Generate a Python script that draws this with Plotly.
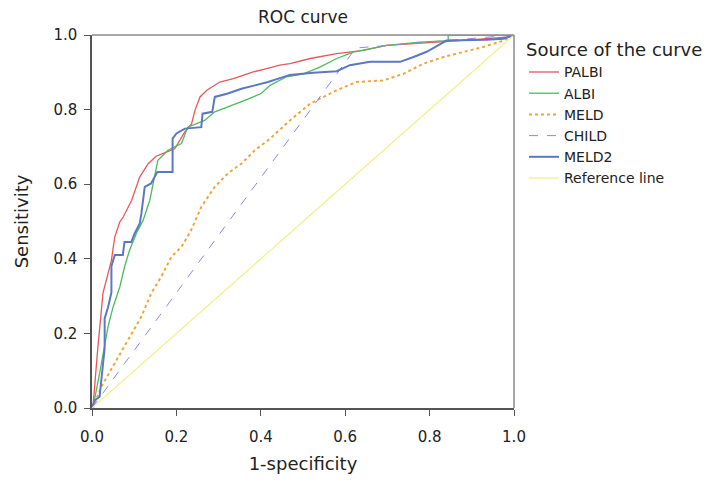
import plotly.graph_objects as go

# ---- data (1-specificity, sensitivity) ----
palbi_fpr = [0.0, 0.002, 0.014, 0.026, 0.046, 0.054, 0.066, 0.074, 0.094, 0.113, 0.133, 0.152, 0.176, 0.196,
             0.220, 0.236, 0.244, 0.256, 0.272, 0.303, 0.335, 0.359, 0.382, 0.414, 0.445, 0.469, 0.517,
             0.580, 0.643, 0.698, 0.754, 0.817, 0.872, 0.990, 1.0]
palbi_tpr = [0.0, 0.0, 0.164, 0.308, 0.396, 0.459, 0.499, 0.512, 0.557, 0.619, 0.655, 0.675, 0.686, 0.695,
             0.740, 0.762, 0.798, 0.834, 0.852, 0.874, 0.883, 0.892, 0.901, 0.910, 0.919, 0.923, 0.937,
             0.950, 0.959, 0.972, 0.976, 0.981, 0.985, 0.995, 1.0]

albi_fpr = [0.0, 0.002, 0.018, 0.030, 0.038, 0.050, 0.066, 0.077, 0.089, 0.105, 0.121, 0.137, 0.149, 0.156,
            0.180, 0.212, 0.227, 0.267, 0.291, 0.322, 0.362, 0.401, 0.422, 0.461, 0.501, 0.540, 0.580,
            0.619, 0.659, 0.698, 0.777, 0.844, 0.844, 1.0]
albi_tpr = [0.0, 0.0, 0.093, 0.164, 0.218, 0.271, 0.325, 0.378, 0.423, 0.468, 0.503, 0.557, 0.619, 0.664,
            0.691, 0.709, 0.753, 0.771, 0.794, 0.807, 0.825, 0.843, 0.865, 0.888, 0.896, 0.914, 0.937,
            0.954, 0.963, 0.972, 0.981, 0.985, 1.0, 1.0]

meld_fpr = [0.0, 0.002, 0.022, 0.054, 0.085, 0.117, 0.140, 0.164, 0.188, 0.212, 0.235, 0.259, 0.291, 0.322,
            0.354, 0.386, 0.422, 0.469, 0.517, 0.580, 0.627, 0.690, 0.738, 0.785, 0.833, 0.880, 0.927,
            0.975, 1.0]
meld_tpr = [0.0, 0.0, 0.057, 0.120, 0.182, 0.245, 0.307, 0.352, 0.405, 0.432, 0.477, 0.539, 0.593, 0.629,
            0.655, 0.691, 0.722, 0.771, 0.816, 0.852, 0.874, 0.878, 0.896, 0.923, 0.941, 0.955, 0.968,
            0.985, 1.0]

child_fpr = [0.0, 0.625, 1.0]
child_tpr = [0.0, 0.965, 1.0]

meld2_fpr = [0.0, 0.006, 0.018, 0.030, 0.030, 0.038, 0.046, 0.046, 0.054, 0.073, 0.077, 0.093, 0.101, 0.113,
             0.117, 0.125, 0.140, 0.152, 0.155, 0.191, 0.191, 0.200, 0.220, 0.259, 0.262, 0.285, 0.291,
             0.322, 0.354, 0.386, 0.417, 0.469, 0.524, 0.580, 0.611, 0.659, 0.730, 0.762, 0.793, 0.817,
             0.840, 0.935, 0.975, 1.0]
meld2_tpr = [0.0, 0.020, 0.030, 0.160, 0.240, 0.270, 0.310, 0.380, 0.410, 0.410, 0.445, 0.445, 0.468, 0.494,
             0.521, 0.593, 0.602, 0.628, 0.633, 0.633, 0.722, 0.736, 0.749, 0.753, 0.789, 0.794, 0.834,
             0.843, 0.856, 0.865, 0.874, 0.893, 0.899, 0.903, 0.919, 0.928, 0.928, 0.941, 0.955, 0.970,
             0.985, 0.987, 0.990, 1.0]

ref_fpr = [0.0, 1.0]
ref_tpr = [0.0, 1.0]

tick_vals = [0.0, 0.2, 0.4, 0.6, 0.8, 1.0]
tick_text = ["0.0", "0.2", "0.4", "0.6", "0.8", "1.0"]

FONT = "'DejaVu Sans', Verdana, sans-serif"

# page has an 8px body margin: figure is 719x481 so it fits the 727x489 window
W, H = 719, 481
L, T = 84, 27          # plot left / top inside the figure
PW, PH = 422, 373      # plot width / height

fig = go.Figure()
fig.add_trace(go.Scatter(x=palbi_fpr, y=palbi_tpr, mode="lines", name="PALBI",
                         line=dict(color="#e9565c", width=1.3)))
fig.add_trace(go.Scatter(x=albi_fpr, y=albi_tpr, mode="lines", name="ALBI",
                         line=dict(color="#4dbb5c", width=1.3)))
fig.add_trace(go.Scatter(x=meld_fpr, y=meld_tpr, mode="lines", name="MELD",
                         line=dict(color="#f0a53a", width=2, dash="dot")))
fig.add_trace(go.Scatter(x=child_fpr, y=child_tpr, mode="lines", name="CHILD",
                         line=dict(color="#8c8ce6", width=1, dash="dash")))
fig.add_trace(go.Scatter(x=meld2_fpr, y=meld2_tpr, mode="lines", name="MELD2",
                         line=dict(color="#5a78c4", width=2)))
fig.add_trace(go.Scatter(x=ref_fpr, y=ref_tpr, mode="lines", name="Reference line",
                         line=dict(color="#f3f08a", width=1.3)))

fig.update_layout(
    width=W, height=H,
    margin=dict(l=L, r=W - L - PW, t=T, b=H - T - PH, autoexpand=False),
    paper_bgcolor="white", plot_bgcolor="white",
    font=dict(family=FONT, size=15, color="#222"),
    title=dict(text="ROC curve", x=(L + PW / 2) / W, xanchor="center",
               y=1.0, yanchor="top", pad=dict(t=3, b=0),
               font=dict(size=17, family=FONT, color="#222")),
    showlegend=True,
    legend=dict(x=1 + 10 / PW, xanchor="left", y=1.0 + 2 / PH, yanchor="top",
                title=dict(text="Source of the curve", font=dict(size=18, family=FONT)),
                font=dict(size=14, family=FONT), bgcolor="rgba(0,0,0,0)",
                tracegroupgap=0),
    shapes=[
        dict(type="line", xref="paper", yref="paper", x0=0, x1=1, y0=1, y1=1,
             line=dict(color="#8a8a8a", width=1.5)),
        dict(type="line", xref="paper", yref="paper", x0=1, x1=1, y0=0, y1=1,
             line=dict(color="#8a8a8a", width=1.5)),
    ],
)
fig.update_xaxes(range=[0, 1], tickvals=tick_vals, ticktext=tick_text, showgrid=False, zeroline=False,
                 showline=True, linecolor="#555", linewidth=1.5, ticks="outside", ticklen=6,
                 tickcolor="#555", ticklabelstandoff=8, tickfont=dict(size=15),
                 title=dict(text="1-specificity", font=dict(size=18), standoff=13))
fig.update_yaxes(range=[0, 1], tickvals=tick_vals, ticktext=tick_text, showgrid=False, zeroline=False,
                 showline=True, linecolor="#555", linewidth=1.5, ticks="outside", ticklen=6,
                 tickcolor="#555", ticklabelstandoff=4, tickfont=dict(size=15),
                 title=dict(text="Sensitivity", font=dict(size=18), standoff=20))

fig.write_html("out.html")
